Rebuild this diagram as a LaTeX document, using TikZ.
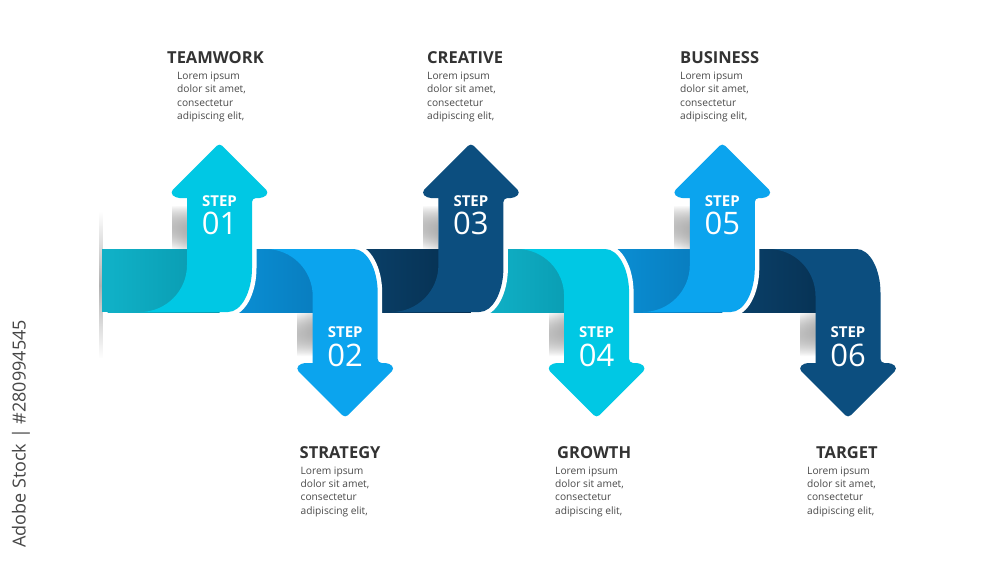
\documentclass[tikz,border=0pt]{standalone}
\usepackage{fontspec}
\setmainfont{Open Sans}
\usetikzlibrary{fadings}
\definecolor{cyanA}{HTML}{00C8E4}
\definecolor{cyanB}{HTML}{10B1C7}
\definecolor{cyanC}{HTML}{0897AD}
\definecolor{blueA}{HTML}{0BA4EE}
\definecolor{blueB}{HTML}{0A8FD4}
\definecolor{blueC}{HTML}{0877B8}
\definecolor{navyA}{HTML}{0C4E7F}
\definecolor{navyB}{HTML}{0A4069}
\definecolor{navyC}{HTML}{062E4E}
\definecolor{titlecol}{HTML}{333333}
\definecolor{bodycol}{HTML}{4A4A4A}
\tikzfading[name=fadeup, top color=transparent!100, bottom color=transparent!0]
\tikzfading[name=fadedown, top color=transparent!0, bottom color=transparent!100]
\tikzfading[name=fadeends, top color=transparent!100, bottom color=transparent!100, middle color=transparent!0]
\tikzset{
  steplabel/.style={inner sep=0pt, text=white, font=\fontsize{15}{15}\selectfont\bfseries},
  stepnum/.style={inner sep=0pt, text=white, font=\fontsize{31}{31}\selectfont},
  titletext/.style={inner sep=0pt, anchor=base west, text=titlecol, font=\fontsize{16.5}{16.5}\selectfont\bfseries},
  bodytext/.style={inner sep=0pt, anchor=base west, text=bodycol, font=\fontsize{10.2}{13.4}\selectfont},
  watermark/.style={inner sep=0pt, text=black!72, rotate=90, font=\fontsize{18}{18}\selectfont}
}
\newcommand\bodyblock{\parbox[t]{90pt}{\raggedright Lorem ipsum\\dolor sit amet,\\consectetur\\adipiscing elit,}}
% #1 centre x, #2 yscale (1 up, -1 down), #3 arrow colour
\newcommand\steparrow[3]{%
  \begin{scope}[shift={(#1,280.5)},yscale=#2]
    \draw[white,line width=9] (32.5,-82.5) -- (32.5,-12.5) .. controls (32.5,11.7) and (21.7,31.5) .. (8.5,31.5);
    \fill[#3] (-79.5,31.5) .. controls (-53.5,31.5) and (-32.5,10.5) .. (-32.5,-15.5)
      -- (-32.5,-82.5) [rounded corners=4] -- (-44,-82.5) -- (-49.5,-88) -- (0,-137.5) -- (49.5,-88) -- (44,-82.5) -- (32.5,-82.5) [sharp corners]
      -- (32.5,-12.5) .. controls (32.5,11.7) and (21.7,31.5) .. (8.5,31.5) -- cycle;
  \end{scope}}
% #1 start x, #2 centre x of arrow, #3 band colour, #4 dark colour
\newcommand\bandseg[4]{%
  \fill[#3] (#1,249) rectangle (#2,312);
  \fill[left color=#3, right color=#4] (#2-112,249) rectangle (#2,312);}
\begin{document}
\begin{tikzpicture}[x=1pt,y=-1pt]
\useasboundingbox (0,0) rectangle (1000,563);
\fill[white] (0,0) rectangle (1000,563);

% soft shadows on the background
\fill[black!30, path fading=fadeends] (99,212) rectangle (102.5,358);
\foreach \c in {219.5,470.9,722.3}{
  \fill[left color=white, right color=black!11, path fading=fadeup] (\c-48,205) rectangle (\c-32.5,249);
}
\foreach \c in {345.2,596.6,848.0}{
  \fill[left color=white, right color=black!11, path fading=fadedown] (\c-48,312) rectangle (\c-32.5,356);
}

% band segments
\bandseg{102}{219.5}{cyanB}{cyanC}
\bandseg{222}{345.2}{blueB}{blueC}
\bandseg{347.7}{470.9}{navyB}{navyC}
\bandseg{473.4}{596.6}{cyanB}{cyanC}
\bandseg{599.1}{722.3}{blueB}{blueC}
\bandseg{724.8}{848.0}{navyB}{navyC}

% arrows
\steparrow{219.5}{1}{cyanA}
\steparrow{345.2}{-1}{blueA}
\steparrow{470.9}{1}{navyA}
\steparrow{596.6}{-1}{cyanA}
\steparrow{722.3}{1}{blueA}
\steparrow{848.0}{-1}{navyA}

% step labels
\node[steplabel] (s1) at (219.5,201.5) {STEP};
\node[stepnum]   (n1) at (219.5,223.5) {01};
\node[steplabel] (s2) at (345.2,332.5) {STEP};
\node[stepnum]   (n2) at (345.2,355) {02};
\node[steplabel] (s3) at (470.9,201.5) {STEP};
\node[stepnum]   (n3) at (470.9,223.5) {03};
\node[steplabel] (s4) at (596.6,332.5) {STEP};
\node[stepnum]   (n4) at (596.6,355) {04};
\node[steplabel] (s5) at (722.3,201.5) {STEP};
\node[stepnum]   (n5) at (722.3,223.5) {05};
\node[steplabel] (s6) at (848.0,332.5) {STEP};
\node[stepnum]   (n6) at (848.0,355) {06};

% titles and texts
\node[titletext] (t1) at (167,63) {TEAMWORK};
\node[bodytext]  (b1) at (177,79.3) {\bodyblock};
\node[titletext] (t3) at (427,63) {CREATIVE};
\node[bodytext]  (b3) at (427,79.3) {\bodyblock};
\node[titletext] (t5) at (680,63) {BUSINESS};
\node[bodytext]  (b5) at (680,79.3) {\bodyblock};
\node[titletext] (t2) at (299.5,458) {STRATEGY};
\node[bodytext]  (b2) at (300.5,474) {\bodyblock};
\node[titletext] (t4) at (557,458) {GROWTH};
\node[bodytext]  (b4) at (555,474) {\bodyblock};
\node[titletext] (t6) at (816,458) {TARGET};
\node[bodytext]  (b6) at (807,474) {\bodyblock};

% vertical credit line
\node[watermark] (wm) at (21,434) {Adobe Stock \textbar{} \#280994545};
\end{tikzpicture}
\end{document}
